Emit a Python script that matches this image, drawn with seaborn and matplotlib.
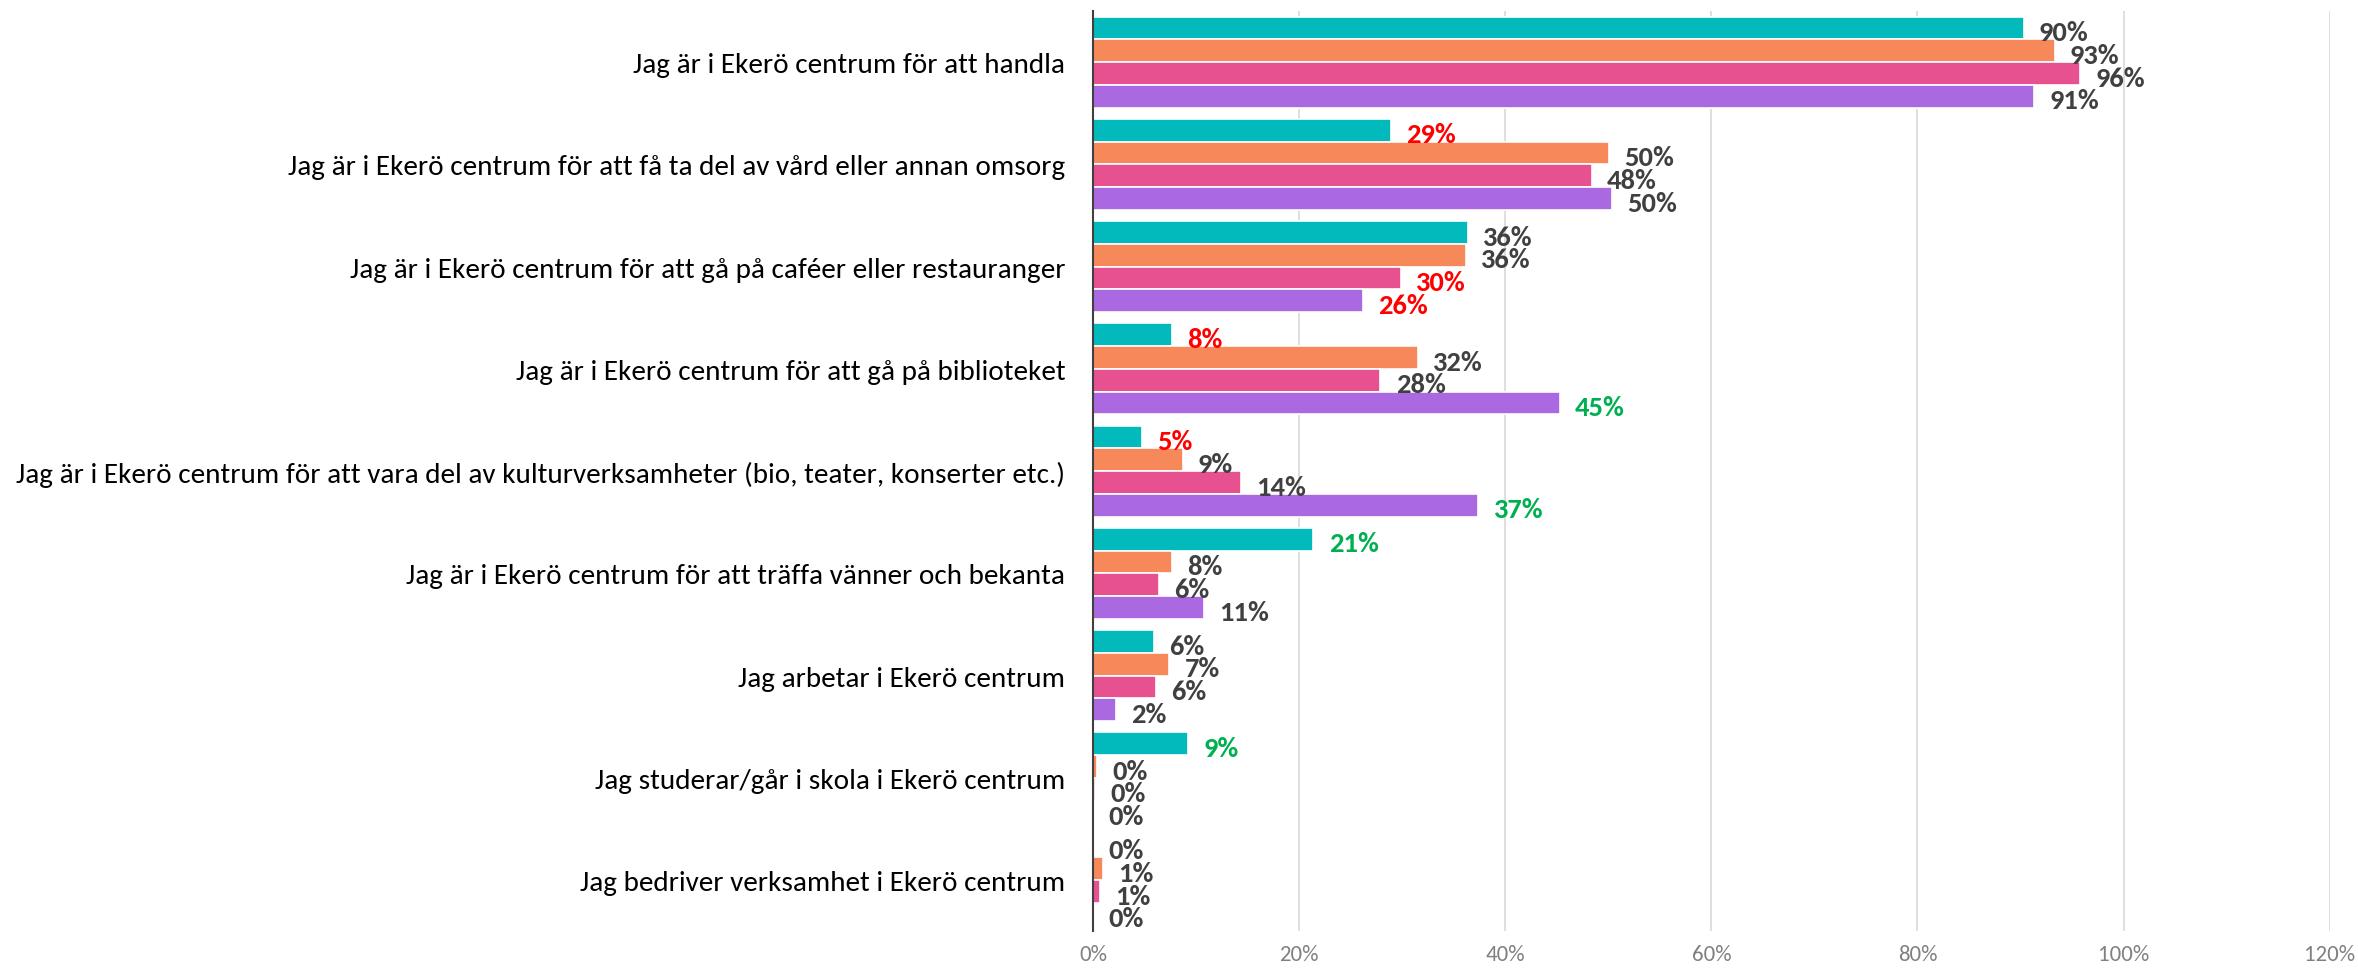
import pandas as pd
import matplotlib
matplotlib.use("Agg")
import matplotlib.pyplot as plt
from matplotlib import font_manager
import seaborn as sns
from matplotlib.ticker import PercentFormatter

# Chart data
categories = [
    "Jag är i Ekerö centrum för att handla",
    "Jag är i Ekerö centrum för att få ta del av vård eller annan omsorg",
    "Jag är i Ekerö centrum för att gå på caféer eller restauranger",
    "Jag är i Ekerö centrum för att gå på biblioteket",
    "Jag är i Ekerö centrum för att vara del av kulturverksamheter (bio, teater, konserter etc.)",
    "Jag är i Ekerö centrum för att träffa vänner och bekanta",
    "Jag arbetar i Ekerö centrum",
    "Jag studerar/går i skola i Ekerö centrum",
    "Jag bedriver verksamhet i Ekerö centrum",
]
series = ["Grupp 1", "Grupp 2", "Grupp 3", "Grupp 4"]
grupp1 = [0.903, 0.289, 0.364, 0.077, 0.048, 0.214, 0.059, 0.092, 0.0]
grupp2 = [0.933, 0.501, 0.362, 0.315, 0.087, 0.077, 0.074, 0.004, 0.010]
grupp3 = [0.958, 0.484, 0.299, 0.279, 0.144, 0.064, 0.061, 0.002, 0.007]
grupp4 = [0.913, 0.504, 0.262, 0.453, 0.374, 0.108, 0.022, 0.0, 0.0]

# label colour codes: n = normal, r = red (low), g = green (high)
marks1 = ["n", "r", "n", "r", "r", "g", "n", "g", "n"]
marks2 = ["n", "n", "n", "n", "n", "n", "n", "n", "n"]
marks3 = ["n", "n", "r", "n", "n", "n", "n", "n", "n"]
marks4 = ["n", "n", "r", "g", "g", "n", "n", "n", "n"]

palette = ["#02B9BB", "#F6885A", "#E8518F", "#AA69E1"]
mark_colors = {"n": "#404040", "r": "#FF0000", "g": "#00B050"}

rows = []
for name, vals in zip(series, [grupp1, grupp2, grupp3, grupp4]):
    for cat, v in zip(categories, vals):
        rows.append({"Kategori": cat, "Serie": name, "Andel": v})
df = pd.DataFrame(rows)

# pick a Calibri-like font if one is around
installed = {f.name for f in font_manager.fontManager.ttflist}
font = next((f for f in ["Carlito", "Lato", "Liberation Sans Narrow"] if f in installed), "DejaVu Sans")

sns.set_style("white")
plt.rcParams["font.family"] = [font, "DejaVu Sans"]

fig = plt.figure(figsize=(23.58, 9.70), dpi=100)
ax = fig.add_axes([0.4635, 0.039, 0.5245, 0.9486])

sns.barplot(data=df, y="Kategori", x="Andel", hue="Serie", orient="h",
            palette=palette, saturation=1, width=0.89, edgecolor="white",
            linewidth=1.2, legend=False, ax=ax)

# data labels
for cont, vals, marks in zip(ax.containers, [grupp1, grupp2, grupp3, grupp4],
                             [marks1, marks2, marks3, marks4]):
    texts = ax.bar_label(cont, labels=[f"{v:.0%}" for v in vals], padding=11,
                         fontsize=20.5, fontweight="bold")
    for t, m in zip(texts, marks):
        t.set_color(mark_colors[m])
        t.xyann = (11, -3)

ax.set_xlim(0, 1.2)
ax.set_ylim(len(categories) - 0.5, -0.5)
ax.set_xticks([0, 0.2, 0.4, 0.6, 0.8, 1.0, 1.2])
ax.xaxis.set_major_formatter(PercentFormatter(1.0, decimals=0))
ax.grid(axis="x", color="#D9D9D9", linewidth=1.2)
ax.set_axisbelow(True)
ax.set_xlabel("")
ax.set_ylabel("")

for s in ["top", "right", "bottom"]:
    ax.spines[s].set_visible(False)
ax.spines["left"].set_color("#404040")
ax.spines["left"].set_linewidth(1.5)

# y ticks at category boundaries, labels in the middle
ax.set_yticks([i - 0.5 for i in range(len(categories) + 1)])
ax.set_yticklabels([])
ax.set_yticks(range(len(categories)), minor=True)
ax.set_yticklabels(categories, minor=True, fontsize=21, color="black")
ax.tick_params(axis="y", which="major", length=8, width=1.5, color="#404040", direction="out")
ax.tick_params(axis="y", which="minor", length=0, pad=20)
ax.tick_params(axis="x", length=0, pad=9, labelsize=16.5, labelcolor="#808080")

fig.savefig("out.png", dpi=100)
